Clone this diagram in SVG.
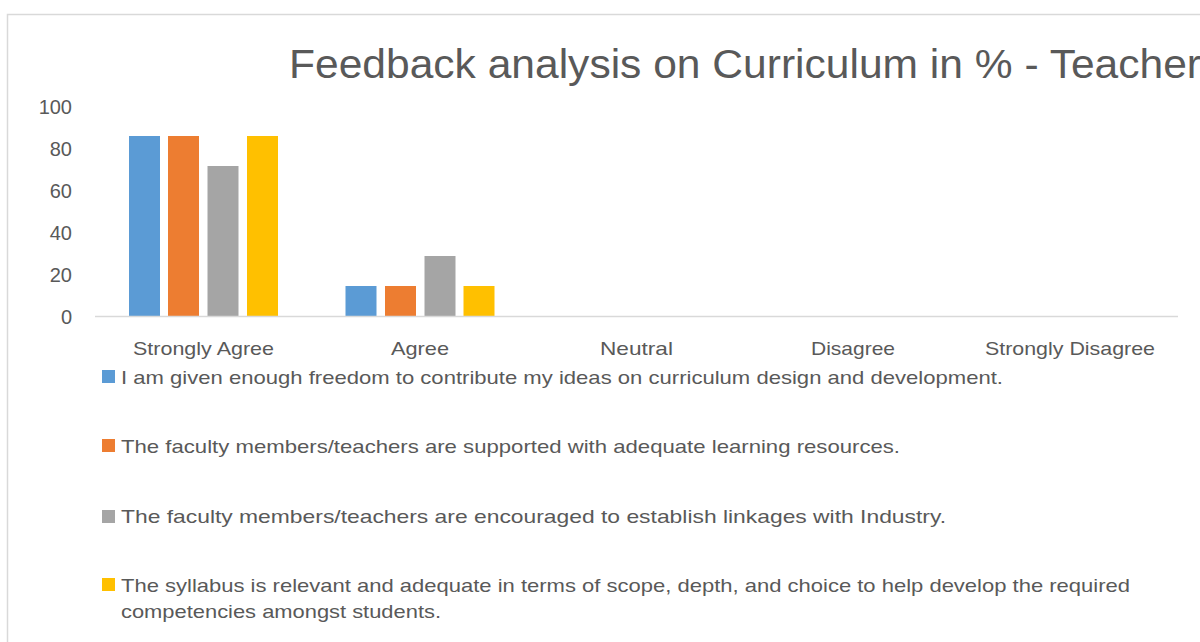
<svg xmlns="http://www.w3.org/2000/svg" width="1200" height="642" viewBox="0 0 1200 642">
<style>
.t{font-family:"Liberation Sans","Open Sans",sans-serif;fill:#595959}
.ax{font-size:20px}
.cat{font-size:19px;text-anchor:middle}
.lg{font-size:19px}
.s1{fill:#5B9BD5}.s2{fill:#ED7D31}.s3{fill:#A5A5A5}.s4{fill:#FFC000}
</style>
<rect x="0" y="0" width="1200" height="642" fill="#ffffff"/>
<rect x="7.5" y="14.5" width="1200" height="640" fill="#ffffff" stroke="#d9d9d9" stroke-width="1.5"/>
<text id="title" class="t" x="289" y="78" font-size="40" textLength="912" lengthAdjust="spacingAndGlyphs">Feedback analysis on Curriculum in % - Teacher</text>
<g id="y-axis" class="t ax" text-anchor="end">
<text x="72" y="114">100</text>
<text x="72" y="156">80</text>
<text x="72" y="198">60</text>
<text x="72" y="240">40</text>
<text x="72" y="282">20</text>
<text x="72" y="324">0</text>
</g>
<g id="bars">
<rect class="s1" x="129" y="136" width="31" height="180"/>
<rect class="s2" x="168" y="136" width="31" height="180"/>
<rect class="s3" x="207.5" y="166" width="31" height="150"/>
<rect class="s4" x="247" y="136" width="31" height="180"/>
<rect class="s1" x="345.5" y="286" width="31" height="30"/>
<rect class="s2" x="385" y="286" width="31" height="30"/>
<rect class="s3" x="424.5" y="256" width="31" height="60"/>
<rect class="s4" x="463.5" y="286" width="31" height="30"/>
</g>
<line x1="95" y1="316.5" x2="1178" y2="316.5" stroke="#d9d9d9" stroke-width="1.5"/>
<g id="categories" class="t cat">
<text x="203.5" y="355" textLength="141" lengthAdjust="spacingAndGlyphs">Strongly Agree</text>
<text x="420" y="355" textLength="58" lengthAdjust="spacingAndGlyphs">Agree</text>
<text x="636.5" y="355" textLength="73" lengthAdjust="spacingAndGlyphs">Neutral</text>
<text x="853" y="355" textLength="84" lengthAdjust="spacingAndGlyphs">Disagree</text>
<text x="1070" y="355" textLength="170" lengthAdjust="spacingAndGlyphs">Strongly Disagree</text>
</g>
<g id="legend" class="t lg">
<g id="legend-1"><rect class="s1" x="102" y="370" width="13" height="13"/><text x="121" y="384" textLength="882" lengthAdjust="spacingAndGlyphs">I am given enough freedom to contribute my ideas on curriculum design and development.</text></g>
<g id="legend-2"><rect class="s2" x="102" y="439" width="13" height="13"/><text x="121" y="453" textLength="779" lengthAdjust="spacingAndGlyphs">The faculty members/teachers are supported with adequate learning resources.</text></g>
<g id="legend-3"><rect class="s3" x="102" y="510" width="13" height="13"/><text x="121" y="523" textLength="825" lengthAdjust="spacingAndGlyphs">The faculty members/teachers are encouraged to establish linkages with Industry.</text></g>
<g id="legend-4"><rect class="s4" x="102" y="578" width="13" height="13"/><text x="121" y="592" textLength="1009" lengthAdjust="spacingAndGlyphs">The syllabus is relevant and adequate in terms of scope, depth, and choice to help develop the required</text><text x="121" y="618" textLength="320" lengthAdjust="spacingAndGlyphs">competencies amongst students.</text></g>
</g>
</svg>
